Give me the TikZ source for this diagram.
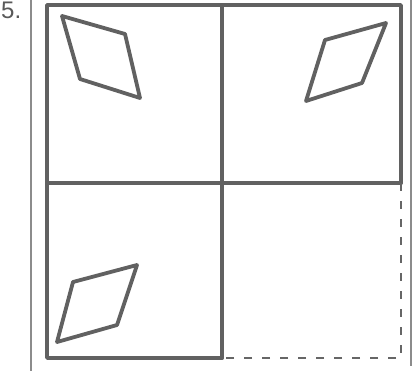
\documentclass[tikz,border=0pt]{standalone}
\usepackage{fontspec}
\setmainfont{Liberation Sans}
\begin{document}
\begin{tikzpicture}[x=1pt,y=-1pt,
  thick line/.style={draw=black!62,line width=3.6pt,line cap=round,line join=round},
  dash line/.style={draw=black!60,line width=1.3pt,dash pattern=on 8pt off 10pt},
  frame line/.style={draw=black!45,line width=1.2pt},
  rhomb/.style={draw=black!62,line width=3.8pt,line join=round}]
\useasboundingbox (0,0) rectangle (419,371);
% outer thin frame lines
\draw[frame line] (31,0) -- (31,371);
\draw[frame line] (411,0) -- (411,366);
% grid corners
\coordinate (TL) at (47,5);
\coordinate (TM) at (222,5);
\coordinate (TR) at (401,5);
\coordinate (ML) at (47,183);
\coordinate (C) at (222,183);
\coordinate (MR) at (401,183);
\coordinate (BL) at (47,358);
\coordinate (BM) at (222,358);
\coordinate (BR) at (401,358);
% solid grid
\draw[thick line] (BM) -- (BL) -- (TL) -- (TR) -- (MR);
\draw[thick line] (TM) -- (BM);
\draw[thick line] (ML) -- (MR);
% dashed part
\draw[dash line] (MR) -- (BR) -- (BM);
% rhombi
\draw[rhomb] (62,16) -- (125,34) -- (140,98) -- (80,79) -- cycle;
\draw[rhomb] (325,40) -- (386,23) -- (362,83) -- (306,101) -- cycle;
\draw[rhomb] (73,282) -- (137,265) -- (117,325) -- (57,342) -- cycle;
% label
\node[text=black!65,font=\fontsize{24}{24}\selectfont,inner sep=0pt,anchor=north west] (lbl) at (1,2) {5.};
\end{tikzpicture}
\end{document}
